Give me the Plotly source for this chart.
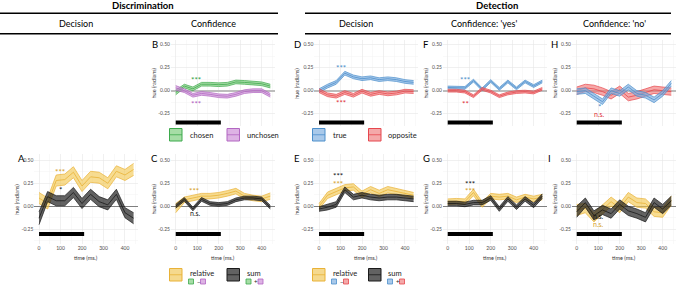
import plotly.graph_objects as go

W, H = 676, 286
FONT = "Lato"

# ---------------- data ----------------
time_ms = [0, 40, 80, 120, 160, 200, 240, 280, 320, 360, 400, 440]
x_ticks = [0, 100, 200, 300, 400]
x_minor = [50, 150, 250, 350, 450]
y_ticks = [-0.25, 0.0, 0.25, 0.5]
y_tick_text = ["-0.25", "0.00", "0.25", "0.50"]
y_minor = [-0.375, -0.125, 0.125, 0.375]
window_ms = [0, 210]

# Discrimination - confidence (B)
B_chosen = [-0.02, 0.05, 0.02, 0.07, 0.07, 0.065, 0.07, 0.095, 0.09, 0.08, 0.075, 0.05]
B_chosen_hw = [0.025, 0.02, 0.02, 0.02, 0.02, 0.02, 0.02, 0.02, 0.02, 0.02, 0.02, 0.02]
B_unchosen = [0.03, 0.0, -0.05, -0.03, -0.04, -0.055, -0.06, -0.04, -0.01, 0.0, 0.0, -0.05]
B_unchosen_hw = [0.025, 0.02, 0.02, 0.02, 0.02, 0.02, 0.02, 0.02, 0.02, 0.02, 0.02, 0.02]
# Detection - decision (D)
D_true = [0.0, 0.05, 0.09, 0.19, 0.15, 0.13, 0.14, 0.12, 0.13, 0.12, 0.10, 0.09]
D_true_hw = [0.02, 0.02, 0.02, 0.02, 0.02, 0.02, 0.02, 0.02, 0.02, 0.02, 0.02, 0.02]
D_opp = [0.0, -0.045, -0.06, -0.02, -0.05, -0.005, -0.04, -0.02, -0.035, -0.025, -0.005, -0.01]
D_opp_hw = [0.02, 0.02, 0.02, 0.02, 0.02, 0.02, 0.02, 0.02, 0.02, 0.02, 0.02, 0.02]
# Detection - confidence 'yes' (F)
F_true = [0.035, 0.035, 0.03, 0.11, 0.015, 0.105, 0.02, 0.10, 0.025, 0.10, 0.05, 0.10]
F_true_hw = [0.015, 0.015, 0.015, 0.015, 0.015, 0.015, 0.015, 0.015, 0.015, 0.015, 0.015, 0.015]
F_opp = [0.0, 0.0, -0.01, -0.06, 0.02, -0.01, -0.06, -0.03, -0.015, -0.01, -0.02, 0.02]
F_opp_hw = [0.015, 0.015, 0.015, 0.015, 0.015, 0.015, 0.015, 0.015, 0.015, 0.015, 0.015, 0.015]
# Detection - confidence 'no' (H)
H_true = [-0.01, 0.0, -0.06, -0.12, 0.0, -0.03, 0.04, -0.03, -0.05, -0.10, -0.03, 0.08]
H_true_hw = [0.03, 0.03, 0.03, 0.03, 0.03, 0.03, 0.03, 0.03, 0.03, 0.03, 0.03, 0.03]
H_opp = [0.0, 0.03, 0.02, -0.01, -0.05, 0.01, -0.07, -0.05, -0.02, 0.01, 0.0, -0.01]
H_opp_hw = [0.04, 0.04, 0.04, 0.04, 0.04, 0.04, 0.04, 0.04, 0.04, 0.04, 0.04, 0.04]

# Discrimination - decision (A)
A_rel = [0.09, 0.03, 0.28, 0.29, 0.37, 0.22, 0.32, 0.31, 0.25, 0.38, 0.34, 0.40]
A_rel_hw = [0.06, 0.06, 0.06, 0.06, 0.06, 0.06, 0.06, 0.06, 0.06, 0.06, 0.06, 0.065]
A_sum = [-0.13, 0.105, 0.06, 0.06, 0.15, 0.03, 0.13, 0.05, 0.015, 0.13, -0.07, -0.13]
A_sum_hw = [0.07, 0.055, 0.055, 0.055, 0.055, 0.055, 0.055, 0.055, 0.055, 0.055, 0.055, 0.06]
# Discrimination - confidence (C)
C_rel = [-0.02, 0.07, 0.09, 0.11, 0.11, 0.12, 0.14, 0.165, 0.11, 0.09, 0.08, 0.11]
C_rel_hw = [0.05, 0.03, 0.03, 0.03, 0.03, 0.03, 0.03, 0.03, 0.03, 0.03, 0.03, 0.035]
C_sum = [0.0, 0.075, -0.03, 0.075, 0.03, 0.02, 0.03, 0.07, 0.09, 0.09, 0.08, -0.01]
C_sum_hw = [0.02, 0.02, 0.02, 0.02, 0.02, 0.02, 0.02, 0.02, 0.02, 0.02, 0.02, 0.02]
# Detection - decision (E)
E_rel = [0.0, 0.12, 0.16, 0.20, 0.21, 0.13, 0.18, 0.14, 0.18, 0.16, 0.14, 0.12]
E_rel_hw = [0.03, 0.035, 0.035, 0.035, 0.035, 0.035, 0.035, 0.035, 0.035, 0.035, 0.03, 0.03]
E_sum = [-0.03, -0.01, 0.02, 0.18, 0.10, 0.12, 0.10, 0.09, 0.10, 0.10, 0.09, 0.08]
E_sum_hw = [0.025, 0.03, 0.03, 0.03, 0.03, 0.03, 0.03, 0.03, 0.03, 0.03, 0.03, 0.03]
# Detection - confidence 'yes' (G)
G_rel = [0.05, 0.055, 0.05, 0.15, 0.02, 0.11, 0.10, 0.11, 0.07, 0.10, 0.08, 0.10]
G_rel_hw = [0.03, 0.03, 0.03, 0.035, 0.03, 0.03, 0.03, 0.03, 0.03, 0.03, 0.03, 0.03]
G_sum = [0.03, 0.03, 0.02, 0.04, 0.04, 0.09, -0.03, 0.08, -0.01, 0.08, 0.01, 0.11]
G_sum_hw = [0.025, 0.025, 0.025, 0.025, 0.025, 0.025, 0.025, 0.025, 0.025, 0.025, 0.025, 0.025]
# Detection - confidence 'no' (I)
I_rel = [-0.04, -0.02, -0.12, -0.04, 0.05, -0.02, 0.10, 0.04, 0.03, -0.06, -0.07, 0.06]
I_rel_hw = [0.06, 0.05, 0.05, 0.05, 0.05, 0.05, 0.05, 0.05, 0.05, 0.05, 0.05, 0.05]
I_sum = [-0.06, 0.04, -0.10, -0.04, -0.08, 0.02, -0.05, -0.08, -0.12, 0.04, -0.03, 0.06]
I_sum_hw = [0.06, 0.05, 0.05, 0.05, 0.05, 0.05, 0.05, 0.05, 0.05, 0.05, 0.05, 0.05]

# ---------------- styling ----------------
PAL = {
    "green":  dict(edge="#3DAA4C", fill="rgba(120,200,120,0.65)", star="#2E9E3E", key="#A6DDA6"),
    "purple": dict(edge="#B266C2", fill="rgba(200,140,212,0.65)", star="#B05CC0", key="#DDB3E4"),
    "blue":   dict(edge="#4C8FCB", fill="rgba(120,170,222,0.65)", star="#4A8ECA", key="#A9C9EA"),
    "red":    dict(edge="#E6474E", fill="rgba(240,110,110,0.6)", star="#E0303A", key="#F4A9A9"),
    "yellow": dict(edge="#E9B237", fill="rgba(242,196,72,0.6)", star="#D6A12A", key="#F5D98E"),
    "grey":   dict(edge="#1A1A1A", fill="rgba(25,25,25,0.68)", star="#111111", key="#626262"),
}

COL_X0 = {1: 34.3, 2: 171.0, 3: 314.3, 4: 443.0, 5: 572.0}
PANEL_W = 104
ROW_Y = {1: (40, 126), 2: (154, 244)}
ROW_RANGE = {1: [-0.384, 0.551], 2: [-0.41, 0.568]}
BAR_Y = {1: -0.345, 2: -0.30}
X_RANGE = [-22, 462]


def px(x):
    return x / W


def py(y):
    return 1 - y / H


panels = [
    dict(letter="B", lx=150, col=2, row=1,
         series=[(B_chosen, B_chosen_hw, "green"), (B_unchosen, B_unchosen_hw, "purple")],
         stars=[("***", 95, 0.14, "green"), ("***", 95, -0.12, "purple")]),
    dict(letter="D", lx=292, col=3, row=1,
         series=[(D_true, D_true_hw, "blue"), (D_opp, D_opp_hw, "red")],
         stars=[("***", 100, 0.27, "blue"), ("***", 100, -0.115, "red")]),
    dict(letter="F", lx=421, col=4, row=1,
         series=[(F_true, F_true_hw, "blue"), (F_opp, F_opp_hw, "red")],
         stars=[("***", 81, 0.145, "blue"), ("**", 81, -0.12, "red")]),
    dict(letter="H", lx=549, col=5, row=1,
         series=[(H_opp, H_opp_hw, "red"), (H_true, H_true_hw, "blue")],
         stars=[("*", 104, -0.155, "blue"), ("n.s.", 107, -0.25, "red")]),
    dict(letter="A", lx=16, col=1, row=2,
         series=[(A_rel, A_rel_hw, "yellow"), (A_sum, A_sum_hw, "grey")],
         stars=[("***", 98, 0.40, "yellow"), ("*", 98, 0.20, "grey")]),
    dict(letter="C", lx=149, col=2, row=2,
         series=[(C_rel, C_rel_hw, "yellow"), (C_sum, C_sum_hw, "grey")],
         stars=[("***", 85, 0.185, "yellow"), ("n.s.", 90, -0.077, "grey")]),
    dict(letter="E", lx=292, col=3, row=2,
         series=[(E_rel, E_rel_hw, "yellow"), (E_sum, E_sum_hw, "grey")],
         stars=[("***", 86, 0.35, "grey"), ("***", 86, 0.27, "yellow")]),
    dict(letter="G", lx=421, col=4, row=2,
         series=[(G_rel, G_rel_hw, "yellow"), (G_sum, G_sum_hw, "grey")],
         stars=[("***", 104, 0.27, "grey"), ("***", 104, 0.185, "yellow")]),
    dict(letter="I", lx=546, col=5, row=2,
         series=[(I_rel, I_rel_hw, "yellow"), (I_sum, I_sum_hw, "grey")],
         stars=[("n.s.", 99, -0.105, "grey"), ("n.s.", 99, -0.19, "yellow")]),
]

fig = go.Figure()
annotations = []
shapes = []
layout = {}

for i, p in enumerate(panels, start=1):
    xa = "x" if i == 1 else f"x{i}"
    ya = "y" if i == 1 else f"y{i}"
    xkey = "xaxis" if i == 1 else f"xaxis{i}"
    ykey = "yaxis" if i == 1 else f"yaxis{i}"
    x0 = COL_X0[p["col"]]
    ytop, ybot = ROW_Y[p["row"]]
    bottom = p["row"] == 2

    layout[xkey] = dict(
        domain=[px(x0), min(1.0, px(x0 + PANEL_W))], anchor=ya, range=X_RANGE,
        tickvals=x_ticks, showticklabels=bottom, showgrid=True, gridcolor="#E6E6E6",
        gridwidth=0.6, zeroline=False, showline=False, ticks="",
        tickfont=dict(family=FONT, size=5, color="#4D4D4D"),
        minor=dict(tickvals=x_minor, showgrid=True, gridcolor="#F3F3F3", gridwidth=0.5),
    )
    layout[ykey] = dict(
        domain=[py(ybot), py(ytop)], anchor=xa, range=ROW_RANGE[p["row"]],
        tickvals=y_ticks, ticktext=y_tick_text, showgrid=True, gridcolor="#E6E6E6",
        gridwidth=0.6, zeroline=True,
        zerolinecolor="#BDBDBD" if p["row"] == 1 else "#7F7F7F",
        zerolinewidth=2 if p["row"] == 1 else 1,
        showline=False, ticks="",
        tickfont=dict(family=FONT, size=5, color="#4D4D4D"),
        minor=dict(tickvals=y_minor, showgrid=True, gridcolor="#F3F3F3", gridwidth=0.5),
    )

    for vals, hw, cname in p["series"]:
        c = PAL[cname]
        lo = [v - h for v, h in zip(vals, hw)]
        hi = [v + h for v, h in zip(vals, hw)]
        fig.add_trace(go.Scatter(x=time_ms, y=lo, mode="lines", xaxis=xa, yaxis=ya,
                                 line=dict(color=c["edge"], width=0.7), hoverinfo="skip",
                                 showlegend=False))
        fig.add_trace(go.Scatter(x=time_ms, y=hi, mode="lines", xaxis=xa, yaxis=ya,
                                 fill="tonexty", fillcolor=c["fill"],
                                 line=dict(color=c["edge"], width=0.7), hoverinfo="skip",
                                 showlegend=False))
        fig.add_trace(go.Scatter(x=time_ms, y=vals, mode="lines", xaxis=xa, yaxis=ya,
                                 line=dict(color=c["edge"], width=0.8), hoverinfo="skip",
                                 showlegend=False))

    # time-window bar
    by = BAR_Y[p["row"]]
    fig.add_trace(go.Scatter(x=window_ms, y=[by, by], mode="lines", xaxis=xa, yaxis=ya,
                             line=dict(color="black", width=4), hoverinfo="skip",
                             showlegend=False))

    for txt, sx, sy, cname in p["stars"]:
        is_star = "*" in txt
        annotations.append(dict(
            x=sx, y=sy, xref=xa, yref=ya, text=txt, showarrow=False,
            xanchor="center", yanchor="middle", yshift=-2.2 if is_star else 0,
            font=dict(family=FONT, size=8 if is_star else 7, color=PAL[cname]["star"]),
        ))

    # panel letter
    annotations.append(dict(
        x=px(p["lx"]), y=py(ytop + 4.5), xref="paper", yref="paper", text=p["letter"],
        showarrow=False, xanchor="left", yanchor="middle",
        font=dict(family=FONT, size=9.5, color="black"),
    ))
    # y axis title
    annotations.append(dict(
        x=px(x0 - 17.5), y=py((ytop + ybot) / 2), xref="paper", yref="paper",
        text="hue (radians)", textangle=-90, showarrow=False, xanchor="center",
        yanchor="middle", font=dict(family=FONT, size=5.5, color="#333333"),
    ))
    if bottom:
        annotations.append(dict(
            x=px(x0 + PANEL_W / 2), y=py(258), xref="paper", yref="paper",
            text="time (ms.)", showarrow=False, xanchor="center", yanchor="middle",
            font=dict(family=FONT, size=5.5, color="#333333"),
        ))

# ---------------- headers ----------------
headers = [
    ("<b>Discrimination</b>", 143, 5.5, 9.5),
    ("<b>Detection</b>", 497, 5.5, 9.5),
    ("Decision", 76, 23.5, 9),
    ("Confidence", 213, 23.5, 9),
    ("Decision", 356, 23.5, 9),
    ("Confidence: 'yes'", 484, 23.5, 9),
    ("Confidence: 'no'", 614, 23.5, 9),
]
for txt, hx, hy, fs in headers:
    annotations.append(dict(x=px(hx), y=py(hy), xref="paper", yref="paper", text=txt,
                            showarrow=False, xanchor="center", yanchor="middle",
                            font=dict(family=FONT, size=fs, color="black")))
for (lx0, lx1) in [(0, 278), (305, 671)]:
    for ly in (13.3, 33.7):
        shapes.append(dict(type="line", xref="paper", yref="paper", x0=px(lx0), x1=px(lx1),
                           y0=py(ly), y1=py(ly), line=dict(color="black", width=1.4)))

# ---------------- legends ----------------
def key_box(x0, y0, cname, size=12.5):
    c = PAL[cname]
    shapes.append(dict(type="rect", xref="paper", yref="paper", x0=px(x0), x1=px(x0 + size),
                       y0=py(y0 + size), y1=py(y0), fillcolor=c["key"],
                       line=dict(color=c["edge"], width=1)))
    shapes.append(dict(type="line", xref="paper", yref="paper", x0=px(x0), x1=px(x0 + size),
                       y0=py(y0 + size / 2), y1=py(y0 + size / 2),
                       line=dict(color=c["edge"], width=0.8)))


def small_sq(x0, y0, cname, size=5):
    c = PAL[cname]
    shapes.append(dict(type="rect", xref="paper", yref="paper", x0=px(x0), x1=px(x0 + size),
                       y0=py(y0 + size), y1=py(y0), fillcolor=c["key"],
                       line=dict(color=c["edge"], width=0.8)))


def label(x, y, txt, fs=7.5, color="#222222"):
    annotations.append(dict(x=px(x), y=py(y), xref="paper", yref="paper", text=txt,
                            showarrow=False, xanchor="left", yanchor="middle",
                            font=dict(family=FONT, size=fs, color=color)))


top_legends = [(169.5, "green", "chosen", 227, "purple", "unchosen"),
               (312.5, "blue", "true", 368.5, "red", "opposite")]
for lx, c1, t1, rx, c2, t2 in top_legends:
    key_box(lx, 128.5, c1)
    label(lx + 18, 135, t1)
    key_box(rx, 128.5, c2)
    label(rx + 18, 135, t2)

bottom_legends = [(169.5, 227, "green", "purple"), (312.5, 368.5, "blue", "red")]
for lx, rx, ca, cb in bottom_legends:
    key_box(lx, 268.5, "yellow")
    label(lx + 18, 273.5, "relative")
    small_sq(lx + 19, 279, ca)
    label(lx + 25.3, 281.2, "−", fs=6)
    small_sq(lx + 31, 279, cb)
    key_box(rx, 268.5, "grey")
    label(rx + 18, 273.5, "sum")
    small_sq(rx + 19, 279, ca)
    label(rx + 25.3, 281.2, "+", fs=6)
    small_sq(rx + 31, 279, cb)

fig.update_layout(
    width=W, height=H, margin=dict(l=0, r=0, t=0, b=0),
    paper_bgcolor="white", plot_bgcolor="white",
    showlegend=False, annotations=annotations, shapes=shapes,
    font=dict(family=FONT), hovermode=False, **layout,
)

fig.write_html(
    "out.html",
    config={"displayModeBar": False, "staticPlot": True},
    post_script="document.body.style.margin='0';document.body.style.padding='0';"
                "document.body.style.overflow='hidden';",
)
